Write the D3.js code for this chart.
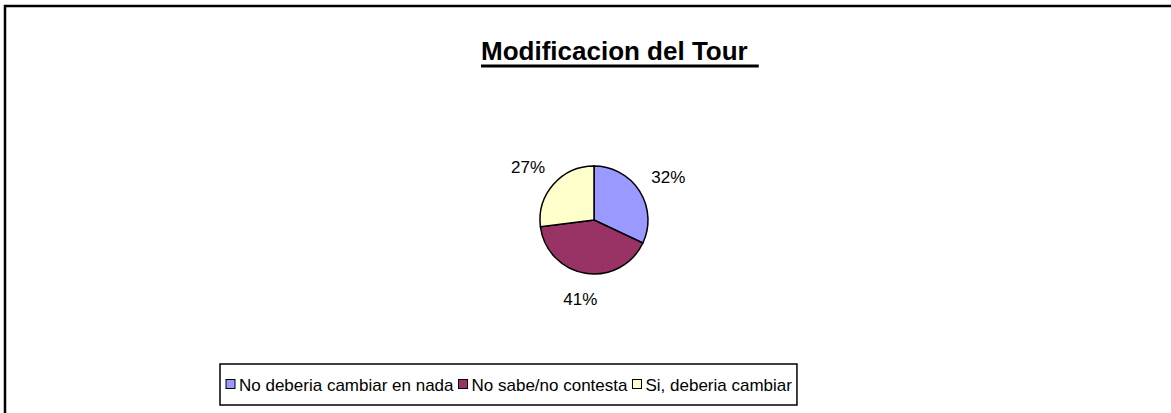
<!DOCTYPE html>
<html>
<head>
<meta charset="utf-8">
<script src="https://cdn.jsdelivr.net/npm/d3@7"></script>
<style>
  body { margin: 0; background: #fff; }
  svg { display: block; font-family: Arial, "Liberation Sans", sans-serif; }
</style>
</head>
<body>
<div id="chart"></div>
<script>
// data
var categories = ["No deberia cambiar en nada", "No sabe/no contesta", "Si, deberia cambiar"];
var values = [32, 41, 27];
var colors = ["#9999FF", "#993366", "#FFFFCC"];
var title = "Modificacion del Tour";

const W = 1171, H = 413;
const svg = d3.select("#chart").append("svg")
  .attr("width", W)
  .attr("height", H);

// outer chart frame (runs off the right/bottom of the picture)
svg.append("rect")
  .attr("x", 5).attr("y", 6)
  .attr("width", W + 20).attr("height", H + 20)
  .attr("fill", "#fff")
  .attr("stroke", "#000")
  .attr("stroke-width", 2.5);

// title, underlined with the trailing space like Excel does
const t = svg.append("text")
  .attr("x", 481).attr("y", 60)
  .style("font-size", "26px")
  .style("font-weight", "bold")
  .text(title);
const tb = t.node().getBBox();
svg.append("line")
  .attr("x1", tb.x).attr("x2", tb.x + tb.width + 11)
  .attr("y1", 66).attr("y2", 66)
  .attr("stroke", "#000").attr("stroke-width", 3);

// pie
const cx = 594, cy = 220, r = 54, gap = 17;
const data = categories.map((c, i) => ({ name: c, value: values[i], color: colors[i] }));
const pie = d3.pie().sort(null).value(d => d.value);
const arc = d3.arc().innerRadius(0).outerRadius(r);

const g = svg.append("g").attr("transform", `translate(${cx},${cy})`);
const arcs = pie(data);
g.selectAll("path")
  .data(arcs)
  .enter().append("path")
  .attr("d", arc)
  .attr("fill", d => d.data.color)
  .attr("stroke", "#000")
  .attr("stroke-width", 1.5);

// labels outside: box pushed away from the pie along the slice mid angle
g.selectAll("text.lbl")
  .data(arcs)
  .enter().append("text")
  .attr("class", "lbl")
  .style("font-size", "17px")
  .attr("text-anchor", "middle")
  .text(d => d.data.value + "%")
  .each(function(d) {
    const a = (d.startAngle + d.endAngle) / 2;
    const bb = this.getBBox();
    const px = Math.sin(a) * (r + gap), py = -Math.cos(a) * (r + gap);
    const x = px + bb.width / 2 * Math.sin(a);
    const y = py - bb.height / 2 * Math.cos(a);
    d3.select(this).attr("x", x).attr("y", y).attr("dy", "0.35em");
  });

// legend
const lg = svg.append("g");
const lx = 220, ly = 364, lh = 41;
let xpos = lx + 6;
const items = lg.selectAll("g.item")
  .data(data)
  .enter().append("g").attr("class", "item");
items.each(function(d) {
  const it = d3.select(this);
  it.append("rect")
    .attr("x", xpos).attr("y", ly + lh / 2 - 5)
    .attr("width", 9).attr("height", 9)
    .attr("fill", d.color)
    .attr("stroke", "#000").attr("stroke-width", 1);
  const tx = it.append("text")
    .attr("x", xpos + 13).attr("y", ly + lh / 2 + 6)
    .style("font-size", "17px")
    .text(d.name);
  xpos += 13 + tx.node().getComputedTextLength() + 5;
});
lg.insert("rect", ":first-child")
  .attr("x", lx).attr("y", ly)
  .attr("width", xpos - lx).attr("height", lh)
  .attr("fill", "#fff")
  .attr("stroke", "#000").attr("stroke-width", 1.5);
</script>
</body>
</html>
